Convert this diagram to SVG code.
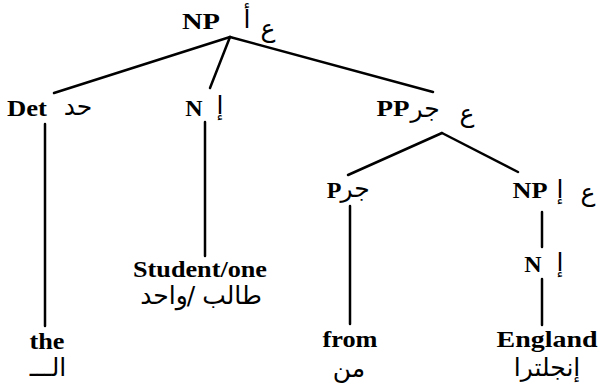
<svg xmlns="http://www.w3.org/2000/svg" width="602" height="391" viewBox="0 0 602 391">
<style>
.en{font-family:"Liberation Serif","Times New Roman",serif;font-weight:bold;font-size:24px;fill:#000;text-anchor:middle}
.ar{font-family:"DejaVu Sans",sans-serif;font-size:25px;fill:#000;text-anchor:middle;direction:rtl;unicode-bidi:embed}
.edge{stroke:#000;stroke-width:2.5;stroke-linecap:round;fill:none}
</style>
<rect width="602" height="391" fill="#fff"/>
<g id="connectors">
<line class="edge" x1="230" y1="37" x2="54" y2="93"/>
<line class="edge" x1="230" y1="37" x2="210" y2="88"/>
<line class="edge" x1="230" y1="37" x2="433" y2="92"/>
<line class="edge" x1="45" y1="124" x2="45" y2="326"/>
<line class="edge" x1="205" y1="122" x2="205" y2="256"/>
<line class="edge" x1="442" y1="133" x2="348" y2="175"/>
<line class="edge" x1="442" y1="133" x2="518" y2="172"/>
<line class="edge" x1="350" y1="206" x2="350" y2="324"/>
<line class="edge" x1="542" y1="212" x2="542" y2="247"/>
<line class="edge" x1="542" y1="279" x2="542" y2="325"/>
</g>
<g id="root-NP">
<text class="en" x="201" y="29" textLength="38" lengthAdjust="spacingAndGlyphs">NP</text>
<text class="ar" x="247" y="28">أ</text>
<text class="ar" x="268" y="37">ع</text>
</g>
<g id="Det">
<text class="en" x="27" y="116" textLength="40" lengthAdjust="spacingAndGlyphs">Det</text>
<text class="ar" x="78" y="115">حد</text>
</g>
<g id="N1">
<text class="en" x="194" y="116">N</text>
<text class="ar" x="220" y="114">إ</text>
</g>
<g id="PP">
<text class="en" x="393" y="116" textLength="33" lengthAdjust="spacingAndGlyphs">PP</text>
<text class="ar" x="425" y="117">جر</text>
<text class="ar" x="467" y="122">ع</text>
</g>
<g id="P">
<text class="en" x="334" y="198">P</text>
<text class="ar" x="355" y="197">جر</text>
</g>
<g id="NP2">
<text class="en" x="530" y="198" textLength="35" lengthAdjust="spacingAndGlyphs">NP</text>
<text class="ar" x="560" y="198">إ</text>
<text class="ar" x="588" y="201">ع</text>
</g>
<g id="N2">
<text class="en" x="533" y="272">N</text>
<text class="ar" x="560" y="271">إ</text>
</g>
<g id="student">
<text class="en" x="200" y="277" textLength="134" lengthAdjust="spacingAndGlyphs">Student/one</text>
<text class="ar" x="164" y="304">واحد</text>
<text class="ar" x="191" y="304">/</text>
<text class="ar" x="232" y="304">طالب</text>
</g>
<g id="the">
<text class="en" x="47" y="349" textLength="35" lengthAdjust="spacingAndGlyphs">the</text>
<text class="ar" x="48" y="376">الـــ</text>
</g>
<g id="from">
<text class="en" x="350" y="347" textLength="55" lengthAdjust="spacingAndGlyphs">from</text>
<text class="ar" x="349" y="377">من</text>
</g>
<g id="England">
<text class="en" x="547" y="347" textLength="101" lengthAdjust="spacingAndGlyphs">England</text>
<text class="ar" x="547" y="376">إنجلترا</text>
</g>
</svg>
